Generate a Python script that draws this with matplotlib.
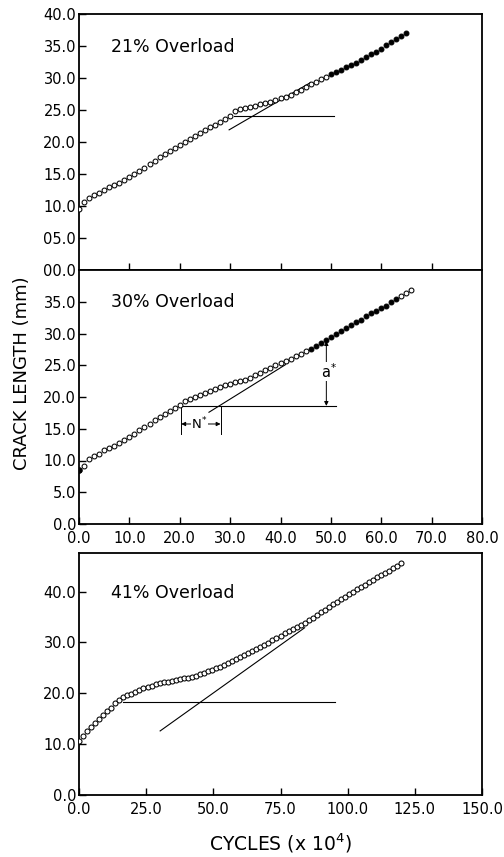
import matplotlib
matplotlib.use('Agg')
import matplotlib.pyplot as plt

# ---- 21% overload ----
cyc_21 = [0, 1, 2, 3, 4, 5, 6, 7, 8, 9, 10, 11, 12, 13, 14, 15, 16, 17, 18, 19,
          20, 21, 22, 23, 24, 25, 26, 27, 28, 29, 30, 31, 32, 33, 34, 35, 36, 37, 38, 39,
          40, 41, 42, 43, 44, 45, 46, 47, 48, 49, 50, 51, 52, 53, 54, 55, 56, 57, 58, 59,
          60, 61, 62, 63, 64, 65]
crack_21 = [9.5, 10.7, 11.3, 11.7, 12.1, 12.5, 12.9, 13.3, 13.6, 14.1,
            14.5, 15.0, 15.5, 16.0, 16.5, 17.0, 17.6, 18.1, 18.6, 19.1,
            19.6, 20.0, 20.5, 20.9, 21.4, 21.8, 22.3, 22.7, 23.2, 23.6,
            24.1, 24.8, 25.1, 25.3, 25.5, 25.7, 25.9, 26.1, 26.3, 26.5,
            26.8, 27.1, 27.4, 27.8, 28.2, 28.6, 29.0, 29.4, 29.8, 30.2,
            30.6, 31.0, 31.3, 31.7, 32.0, 32.4, 32.8, 33.3, 33.7, 34.1,
            34.6, 35.1, 35.6, 36.1, 36.6, 37.1]
tan_21_x = [29.8, 46.0]
tan_21_y = [21.9, 29.3]
ref_21_x = [30.8, 50.6]
ref_21_y = [24.0, 24.0]

# ---- 30% overload ----
cyc_30 = [0, 1, 2, 3, 4, 5, 6, 7, 8, 9, 10, 11, 12, 13, 14, 15, 16, 17, 18, 19,
          20, 21, 22, 23, 24, 25, 26, 27, 28, 29, 30, 31, 32, 33, 34, 35, 36, 37, 38, 39,
          40, 41, 42, 43, 44, 45, 46, 47, 48, 49, 50, 51, 52, 53, 54, 55, 56, 57, 58, 59,
          60, 61, 62, 63, 64, 65, 66]
crack_30 = [8.5, 9.2, 10.2, 10.7, 11.1, 11.6, 12.0, 12.3, 12.8, 13.2,
            13.7, 14.2, 14.8, 15.3, 15.8, 16.3, 16.8, 17.3, 17.8, 18.3,
            18.8, 19.4, 19.7, 20.0, 20.3, 20.7, 21.0, 21.3, 21.6, 21.9,
            22.1, 22.3, 22.5, 22.7, 23.0, 23.4, 23.8, 24.2, 24.6, 25.0,
            25.4, 25.7, 26.0, 26.4, 26.7, 27.2, 27.6, 28.1, 28.5, 29.0,
            29.5, 29.9, 30.4, 30.9, 31.3, 31.8, 32.2, 32.7, 33.2, 33.6,
            34.0, 34.4, 34.9, 35.4, 35.9, 36.3, 36.8]
tan_30_x = [25.8, 41.0]
tan_30_y = [17.6, 25.1]
ref_30_x = [20.3, 51.1]
ref_30_y = [18.6, 18.6]
nstar_x = [20.3, 28.1]      # N* : cycles between overload and tangent crossing
nstar_y = [14.2, 15.75]     # extension line bottom, dimension line level
astar_x = 49.1
astar_y = [18.6, 28.8]      # a* : crack length span

# ---- 41% overload ----
cyc_41 = [0, 1.5, 3, 4.5, 6, 7.5, 9, 10.5, 12, 13.5, 15, 16.5, 18, 19.5,
          21, 22.5, 24, 25.5, 27, 28.5, 30, 31.5, 33, 34.5, 36, 37.5, 39, 40.5,
          42, 43.5, 45, 46.5, 48, 49.5, 51, 52.5, 54, 55.5, 57, 58.5, 60, 61.5,
          63, 64.5, 66, 67.5, 69, 70.5, 72, 73.5, 75, 76.5, 78, 79.5, 81, 82.5,
          84, 85.5, 87, 88.5, 90, 91.5, 93, 94.5, 96, 97.5, 99, 100.5, 102, 103.5,
          105, 106.5, 108, 109.5, 111, 112.5, 114, 115.5, 117, 118.5, 120]
crack_41 = [10.7, 11.7, 12.6, 13.4, 14.2, 15.0, 15.7, 16.5, 17.2, 18.0, 18.7, 19.2, 19.6, 19.9,
            20.2, 20.6, 21.0, 21.3, 21.5, 21.8, 22.0, 22.2, 22.3, 22.4, 22.6, 22.8, 23.0, 23.1,
            23.3, 23.5, 23.8, 24.0, 24.3, 24.6, 24.9, 25.2, 25.5, 25.9, 26.3, 26.8, 27.2, 27.6,
            28.0, 28.4, 28.8, 29.1, 29.5, 29.9, 30.4, 30.9, 31.3, 31.8, 32.2, 32.6, 33.0, 33.4,
            33.9, 34.4, 34.9, 35.4, 35.9, 36.4, 36.9, 37.5, 38.0, 38.5, 39.0, 39.5, 40.0, 40.5,
            40.9, 41.4, 41.8, 42.3, 42.8, 43.2, 43.7, 44.1, 44.6, 45.1, 45.6]
tan_41_x = [30.2, 84.0]
tan_41_y = [12.6, 32.9]
ref_41_x = [16.2, 95.2]
ref_41_y = [18.3, 18.3]

W, H = 504, 857
fig = plt.figure(figsize=(W / 100, H / 100), dpi=100)

L = 79 / W
AW = 403 / W
ax1 = fig.add_axes([L, 1 - 270 / H, AW, 256 / H])
ax2 = fig.add_axes([L, 1 - 524 / H, AW, 254 / H])
ax3 = fig.add_axes([L, 1 - 795 / H, AW, 242 / H])

line_kw = dict(color='black', linewidth=0.8)


def plot_series(ax, x, y, filled_from=None, filled_to=None, ms=3.6):
    for xi, yi in zip(x, y):
        filled = filled_from is not None and filled_from <= xi <= filled_to
        ax.plot(xi, yi, marker='o', linestyle='none', markersize=ms,
                markeredgewidth=0.75, markeredgecolor='black',
                markerfacecolor='black' if filled else 'white', zorder=3)


def style_axes(ax):
    for sp in ax.spines.values():
        sp.set_linewidth(1.3)
    ax.tick_params(direction='in', length=5, width=1.0, labelsize=10.5,
                   top=False, right=False)
    ax.tick_params(axis='y', pad=2)
    ax.tick_params(axis='x', pad=5)


# top panel
plot_series(ax1, cyc_21, crack_21, filled_from=50, filled_to=70, ms=3.5)
ax1.plot(tan_21_x, tan_21_y, **line_kw)
ax1.plot(ref_21_x, ref_21_y, **line_kw)
ax1.set_xlim(0, 80)
ax1.set_ylim(0, 40)
ax1.set_xticks([10, 20, 30, 40, 50, 60, 70])
ax1.set_xticklabels([])
ax1.set_yticks([0, 5, 10, 15, 20, 25, 30, 35, 40])
ax1.set_yticklabels(['00.0', '05.0', '10.0', '15.0', '20.0', '25.0', '30.0', '35.0', '40.0'])
ax1.text(0.08, 0.872, '21% Overload', transform=ax1.transAxes, fontsize=12.5,
         va='center', ha='left')
style_axes(ax1)

# middle panel
plot_series(ax2, cyc_30, crack_30, filled_from=46, filled_to=63, ms=3.5)
ax2.plot(cyc_30[0], crack_30[0], marker='o', color='black', markersize=3.5, zorder=4)
ax2.plot(tan_30_x, tan_30_y, **line_kw)
ax2.plot(ref_30_x, ref_30_y, **line_kw)
for xv in nstar_x:
    ax2.plot([xv, xv], [nstar_y[0], ref_30_y[0]], color='black', linewidth=0.7)
ax2.annotate('', xy=(nstar_x[0], nstar_y[1]), xytext=(nstar_x[1], nstar_y[1]),
             arrowprops=dict(arrowstyle='<|-|>', color='black', lw=0.7,
                             mutation_scale=6, shrinkA=0, shrinkB=0))
ax2.text(sum(nstar_x) / 2 - 0.3, nstar_y[1], 'N$^{*}$', fontsize=9.5, ha='center',
         va='center', bbox=dict(facecolor='white', edgecolor='none', pad=0.3))
ax2.annotate('', xy=(astar_x, astar_y[1]), xytext=(astar_x, astar_y[0]),
             arrowprops=dict(arrowstyle='<|-|>', color='black', lw=0.7,
                             mutation_scale=6, shrinkA=0, shrinkB=0))
ax2.text(astar_x + 0.6, (astar_y[0] + astar_y[1]) / 2 + 0.3, 'a$^{*}$', fontsize=10.5,
         ha='center', va='center', bbox=dict(facecolor='white', edgecolor='none', pad=0.3))
ax2.set_xlim(0, 80)
ax2.set_ylim(0, 40)
ax2.set_xticks([0, 10, 20, 30, 40, 50, 60, 70, 80])
ax2.set_xticklabels(['0.0', '10.0', '20.0', '30.0', '40.0', '50.0', '60.0', '70.0', '80.0'])
ax2.set_yticks([0, 5, 10, 15, 20, 25, 30, 35])
ax2.set_yticklabels(['0.0', '5.0', '10.0', '15.0', '20.0', '25.0', '30.0', '35.0'])
ax2.text(0.08, 0.875, '30% Overload', transform=ax2.transAxes, fontsize=12.5,
         va='center', ha='left')
style_axes(ax2)

# bottom panel
plot_series(ax3, cyc_41, crack_41, ms=3.6)
ax3.plot(tan_41_x, tan_41_y, **line_kw)
ax3.plot(ref_41_x, ref_41_y, **line_kw)
ax3.set_xlim(0, 150)
ax3.set_ylim(0, 47.6)
ax3.set_xticks([0, 25, 50, 75, 100, 125, 150])
ax3.set_xticklabels(['0.0', '25.0', '50.0', '75.0', '100.0', '125.0', '150.0'])
ax3.set_yticks([0, 10, 20, 30, 40])
ax3.set_yticklabels(['0.0', '10.0', '20.0', '30.0', '40.0'])
ax3.text(0.08, 0.836, '41% Overload', transform=ax3.transAxes, fontsize=12.5,
         va='center', ha='left')
style_axes(ax3)

fig.text(22 / W, 1 - 373 / H, 'CRACK LENGTH (mm)', rotation=90, fontsize=13,
         ha='center', va='center')
fig.text(280 / W, 1 - 843 / H, 'CYCLES (x 10$^4$)', fontsize=13.5,
         ha='center', va='center')

plt.savefig('out.png', dpi=100)
plt.close(fig)
